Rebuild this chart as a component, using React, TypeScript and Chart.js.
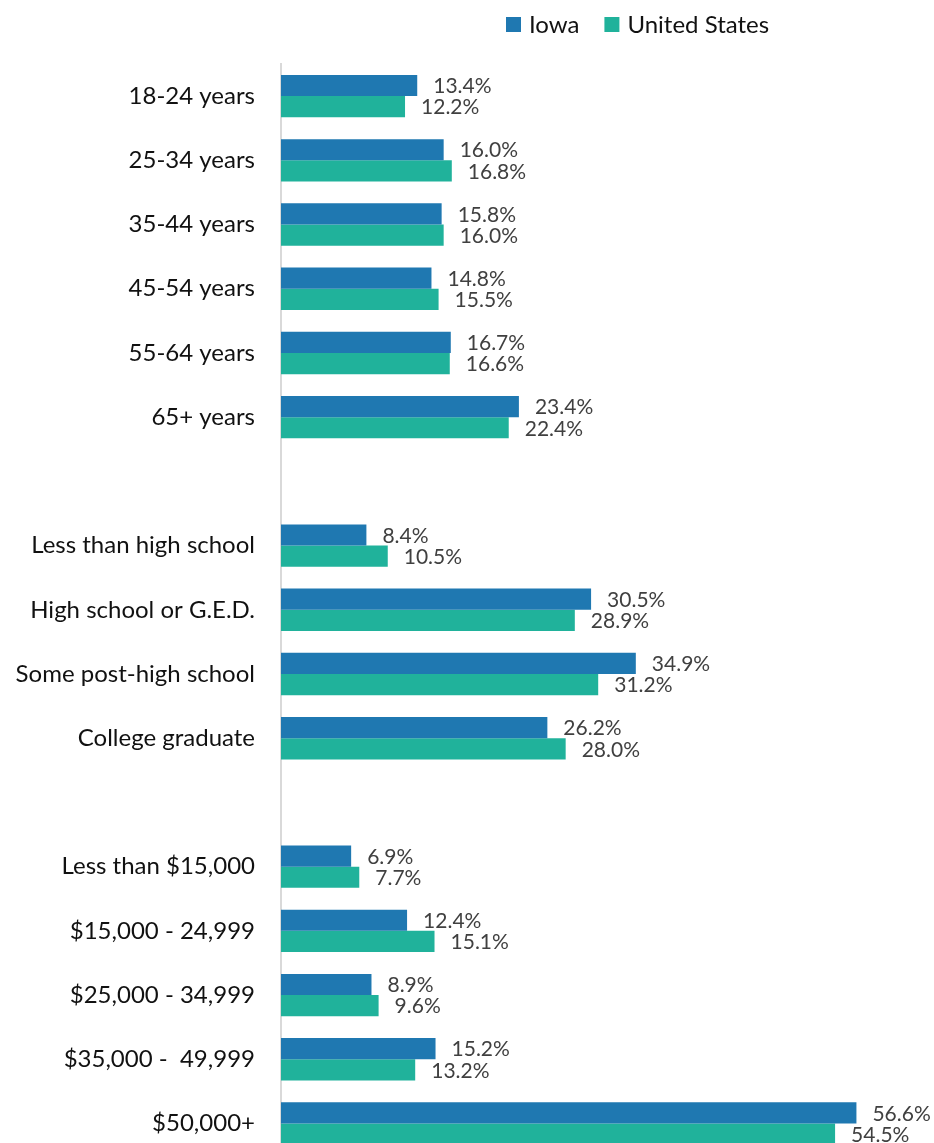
import React, { useEffect, useRef } from "react";
import { Chart, registerables } from "chart.js";

Chart.register(...registerables);

const categories = [
  "18-24 years",
  "25-34 years",
  "35-44 years",
  "45-54 years",
  "55-64 years",
  "65+ years",
  "",
  "Less than high school",
  "High school or G.E.D.",
  "Some post-high school",
  "College graduate",
  "",
  "Less than $15,000",
  "$15,000 - 24,999",
  "$25,000 - 34,999",
  "$35,000 -  49,999",
  "$50,000+",
];

const iowaValues = [13.4, 16.0, 15.8, 14.8, 16.7, 23.4, null, 8.4, 30.5, 34.9, 26.2, null, 6.9, 12.4, 8.9, 15.2, 56.6];
const usValues = [12.2, 16.8, 16.0, 15.5, 16.6, 22.4, null, 10.5, 28.9, 31.2, 28.0, null, 7.7, 15.1, 9.6, 13.2, 54.5];

const seriesNames = ["Iowa", "United States"];
const seriesColors = ["#1f78b1", "#20b29b"];

const FONT = "Lato, 'Open Sans', sans-serif";

const valueLabels = {
  id: "valueLabels",
  afterDatasetsDraw(chart: any) {
    const ctx = chart.ctx;
    ctx.save();
    ctx.font = `21px ${FONT}`;
    ctx.fillStyle = "#404040";
    ctx.textAlign = "left";
    ctx.textBaseline = "middle";
    chart.data.datasets.forEach((ds: any, di: number) => {
      const meta = chart.getDatasetMeta(di);
      meta.data.forEach((el: any, i: number) => {
        const v = ds.data[i];
        if (v === null || v === undefined) return;
        ctx.fillText(v.toFixed(1) + "%", el.x + 16, el.y + 1);
      });
    });
    ctx.restore();
  },
};

const topLegend = {
  id: "topLegend",
  afterDraw(chart: any) {
    const ctx = chart.ctx;
    ctx.save();
    ctx.font = `24px ${FONT}`;
    ctx.textBaseline = "middle";
    ctx.textAlign = "left";
    let x = 506;
    const y = 24;
    chart.data.datasets.forEach((ds: any) => {
      ctx.fillStyle = ds.backgroundColor;
      ctx.fillRect(x, y - 7, 15, 15);
      ctx.fillStyle = "#111111";
      ctx.fillText(ds.label, x + 23, y + 1);
      x += 23 + ctx.measureText(ds.label).width + 25;
    });
    ctx.restore();
  },
};

export default function App() {
  const ref = useRef<HTMLCanvasElement | null>(null);

  useEffect(() => {
    document.body.style.overflow = "hidden";
    const canvas = ref.current;
    if (!canvas) return;
    const chart = new Chart(canvas, {
      type: "bar",
      data: {
        labels: categories,
        datasets: [
          { label: seriesNames[0], data: iowaValues as any, backgroundColor: seriesColors[0] },
          { label: seriesNames[1], data: usValues as any, backgroundColor: seriesColors[1] },
        ],
      },
      options: {
        indexAxis: "y",
        responsive: false,
        animation: false,
        devicePixelRatio: 1,
        categoryPercentage: 0.66,
        barPercentage: 1,
        layout: { padding: { top: 64, right: 43, bottom: 0, left: 0 } },
        plugins: {
          legend: { display: false },
          tooltip: { enabled: false },
        },
        scales: {
          x: {
            display: false,
            min: 0,
            max: 60,
          },
          y: {
            afterFit(scale: any) {
              scale.width = 281;
            },
            grid: { display: false, drawTicks: false },
            border: { display: true, color: "#d9d9d9", width: 2 },
            ticks: {
              padding: 26,
              color: "#111111",
              font: { family: FONT, size: 24 },
            },
          },
        },
      } as any,
      plugins: [valueLabels, topLegend],
    });
    return () => chart.destroy();
  }, []);

  return (
    <canvas
      ref={ref}
      width={934}
      height={1196}
      style={{ position: "fixed", left: 0, top: 0, width: 934, height: 1196 }}
    />
  );
}
